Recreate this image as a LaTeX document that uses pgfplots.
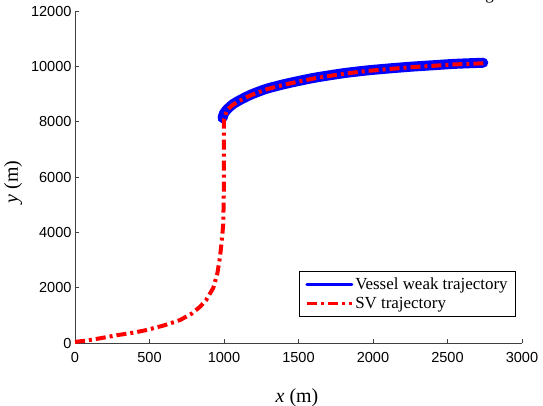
\documentclass[border=0pt]{standalone}
\usepackage{fontspec}
\setmainfont{Liberation Serif}
\newfontfamily\sansf{Liberation Sans}
\usepackage{pgfplots}
\pgfplotsset{compat=1.18}
\begin{document}
\begin{tikzpicture}
\begin{axis}[
  scale only axis,
  width=447bp, height=332bp,
  xmin=0, xmax=3000, ymin=0, ymax=12000,
  axis lines=left,
  axis line style={-, draw=black!75, line width=0.8bp},
  xtick={0,500,...,3000},
  ytick={0,2000,...,12000},
  tick align=inside,
  major tick length=4bp,
  tick style={draw=black!75, line width=0.8bp},
  scaled ticks=false,
  /pgf/number format/assume math mode=true,
  /pgf/number format/1000 sep={},
  tick label style={font=\sansf\fontsize{14.6}{16}\selectfont},
  xticklabel style={yshift=-6bp},
  xlabel={\textit{x} (m)},
  ylabel={\textit{y} (m)},
  label style={font=\fontsize{20}{22}\selectfont},
  xlabel style={at={(axis description cs:0.4966,-0.1807)}, anchor=base},
  ylabel style={at={(axis description cs:-0.128,0.485)}, anchor=base, rotate=0},
  legend style={at={(0.9866,0.2169)}, anchor=north east, draw=black, line width=0.8bp,
    font=\fontsize{17}{20}\selectfont, inner xsep=6bp, inner ysep=4bp, row sep=3bp},
  legend cell align=left,
]
\addplot[blue, line width=10bp, line cap=round, smooth, tension=0.4,
  legend image code/.code={\draw[blue, line width=3bp] (0bp,0bp) -- (45bp,0bp);}]
  coordinates {
  (990,8130) (1000,8300) (1020,8440) (1040,8540) (1062,8640) (1100,8760) (1150,8900)
  (1200,9020) (1286,9190) (1400,9350) (1500,9470) (1621,9600) (1800,9750)
  (1957,9850) (2100,9920) (2250,9985) (2405,10040) (2550,10090) (2740,10130)
  };
\addlegendentry{Vessel weak trajectory}
\addplot[red, line width=4bp, dash pattern=on 10bp off 4bp on 3bp off 4bp,
  legend image code/.code={\draw[red, line width=3bp, dash pattern=on 10bp off 4bp on 3bp off 4bp] (0bp,0bp) -- (45bp,0bp);}]
  coordinates {
  (0,40) (80,90) (168,170) (280,280) (400,380) (481,470) (600,640) (705,830)
  (780,1050) (839,1310) (880,1550) (928,1990) (955,2500) (973,3100) (985,3700)
  (995,4300) (999,5500) (1000,6500) (1000,8100)
  (1020,8420) (1040,8520) (1062,8620) (1100,8740) (1150,8880)
  (1200,9000) (1286,9170) (1400,9330) (1500,9450) (1621,9580) (1800,9730)
  (1957,9830) (2100,9900) (2250,9965) (2405,10020) (2550,10070) (2740,10110)
  };
\addlegendentry{SV trajectory}
\end{axis}
\node[anchor=base east, font=\fontsize{17}{20}\selectfont, inner sep=0pt]
  at ([shift={(419bp,343.5bp)}]current axis.south west) {Tracking};
\pgfresetboundingbox
\path[use as bounding box] ([shift={(-75bp,-63bp)}]current axis.south west) rectangle ([shift={(468bp,343bp)}]current axis.south west);
\end{tikzpicture}
\end{document}
